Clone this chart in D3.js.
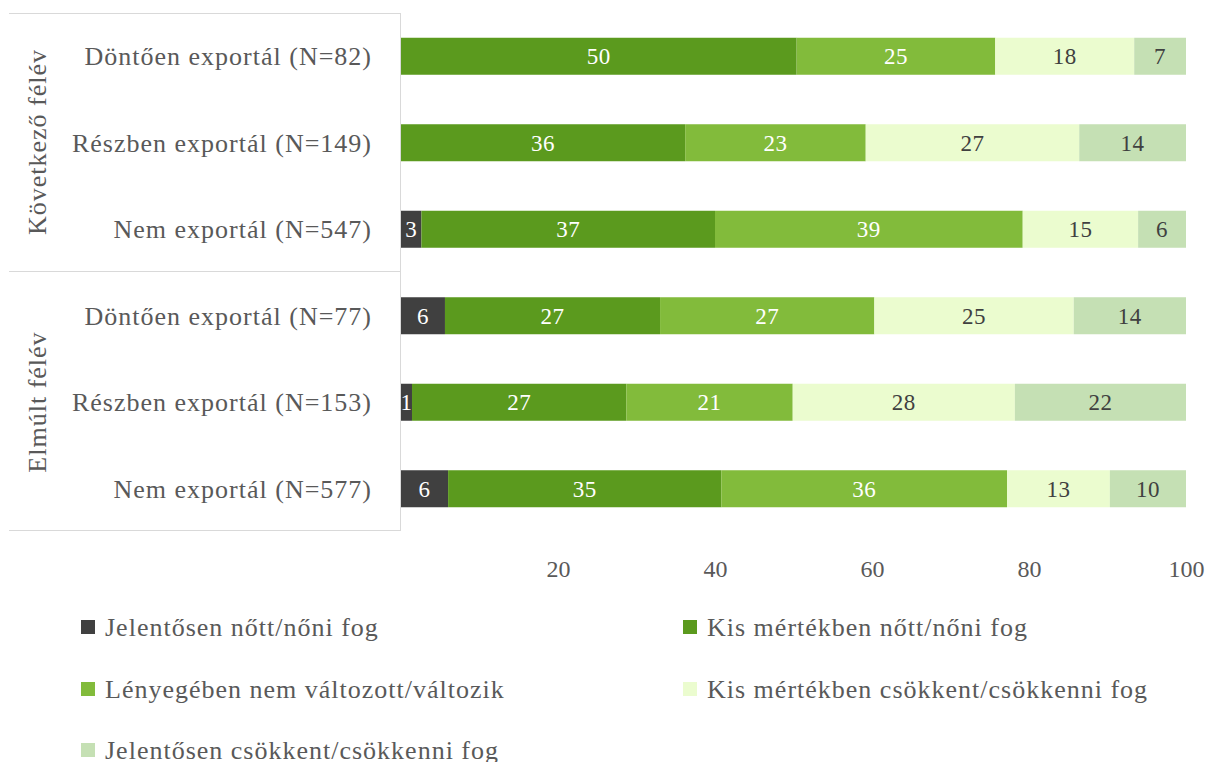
<!DOCTYPE html>
<html><head><meta charset="utf-8">
<script src="https://cdn.jsdelivr.net/npm/d3@7"></script>
<style>body{margin:0;background:#fff}svg{display:block}text{font-family:"Liberation Serif",serif}</style>
</head><body><svg id="c" width="1208" height="762"></svg>
<script>
const categories = ["Döntően exportál (N=82)","Részben exportál (N=149)","Nem exportál (N=547)","Döntően exportál (N=77)","Részben exportál (N=153)","Nem exportál (N=577)"];
const groups = ["Következő félév","Elmúlt félév"];
const seriesNames = ["Jelentősen nőtt/nőni fog","Kis mértékben nőtt/nőni fog","Lényegében nem változott/változik","Kis mértékben csökkent/csökkenni fog","Jelentősen csökkent/csökkenni fog"];
const s1 = [0, 0, 2.6, 5.6, 1.4, 6.0];
const s2 = [50.4, 36.2, 37.4, 27.4, 27.3, 34.8];
const s3 = [25.3, 23.0, 39.2, 27.3, 21.2, 36.4];
const s4 = [17.7, 27.2, 14.7, 25.4, 28.3, 13.1];
const s5 = [6.6, 13.6, 6.1, 14.3, 21.8, 9.7];
const tickValues = [20, 40, 60, 80, 100];
const colors = ["#404040","#5b9a1e","#82bb3b","#ebfccf","#c5e0b4"];
const labelColors = ["#ffffff","#ffffff","#ffffff","#404040","#404040"];

const series = [s1,s2,s3,s4,s5];
const svg = d3.select("#c");
const x = d3.scaleLinear().domain([0,100]).range([401,1186]);
const y = d3.scaleBand().domain(categories).range([13,532]);
const barH = 37;

// group box lines
const grid = "#d9d9d9";
svg.append("line").attr("x1",400.5).attr("x2",400.5).attr("y1",13).attr("y2",531).attr("stroke",grid);
[13.5, 271.5, 530.5].forEach(yy=>svg.append("line").attr("x1",9).attr("x2",400).attr("y1",yy).attr("y2",yy).attr("stroke",grid));

const rows = categories.map((c,i)=>{let acc=0;return series.map((s,k)=>{const d={cat:c,k,v:s[i],x0:acc};acc+=s[i];return d;});});
const g = svg.append("g");
rows.forEach(r=>{
  r.forEach(d=>{
    if(d.v<=0) return;
    const yc = y(d.cat)+y.bandwidth()/2;
    g.append("rect").attr("x",x(d.x0)).attr("y",yc-barH/2).attr("width",x(d.x0+d.v)-x(d.x0)).attr("height",barH).attr("fill",colors[d.k]);
    g.append("text").attr("x",(x(d.x0)+x(d.x0+d.v))/2).attr("y",yc).attr("dy","0.35em").attr("text-anchor","middle")
      .attr("font-size",23).attr("letter-spacing",0.5).attr("fill",labelColors[d.k]).text(Math.round(d.v));
  });
});

// category labels
svg.append("g").selectAll("text").data(categories).join("text")
  .attr("x",372).attr("y",d=>y(d)+y.bandwidth()/2).attr("dy","0.35em").attr("text-anchor","end")
  .attr("font-size",26).attr("letter-spacing",1).attr("fill","#595959").text(d=>d);

// group labels
[[groups[0],142],[groups[1],402]].forEach(([t,cy])=>{
  svg.append("text").attr("transform",`translate(37,${cy}) rotate(-90)`).attr("dy","0.35em").attr("text-anchor","middle")
    .attr("font-size",26).attr("letter-spacing",1).attr("fill","#595959").text(t);
});

// x axis
const ax = svg.append("g").attr("transform","translate(0,531)")
  .call(d3.axisBottom(x).tickValues(tickValues).tickSize(0).tickPadding(0));
ax.select(".domain").remove();
ax.selectAll("text").attr("y",38).attr("dy","0.35em").attr("font-size",24).attr("fill","#595959").attr("font-family","Liberation Serif");

// legend
const legPos = [[81,627],[683,627],[81,689],[683,689],[81,750]];
seriesNames.forEach((n,i)=>{
  const [lx,ly]=legPos[i];
  svg.append("rect").attr("x",lx).attr("y",ly-7).attr("width",14).attr("height",14).attr("fill",colors[i]);
  svg.append("text").attr("x",lx+24).attr("y",ly).attr("dy","0.35em").attr("font-size",26).attr("letter-spacing",1).attr("fill","#595959").text(n);
});
</script></body></html>
